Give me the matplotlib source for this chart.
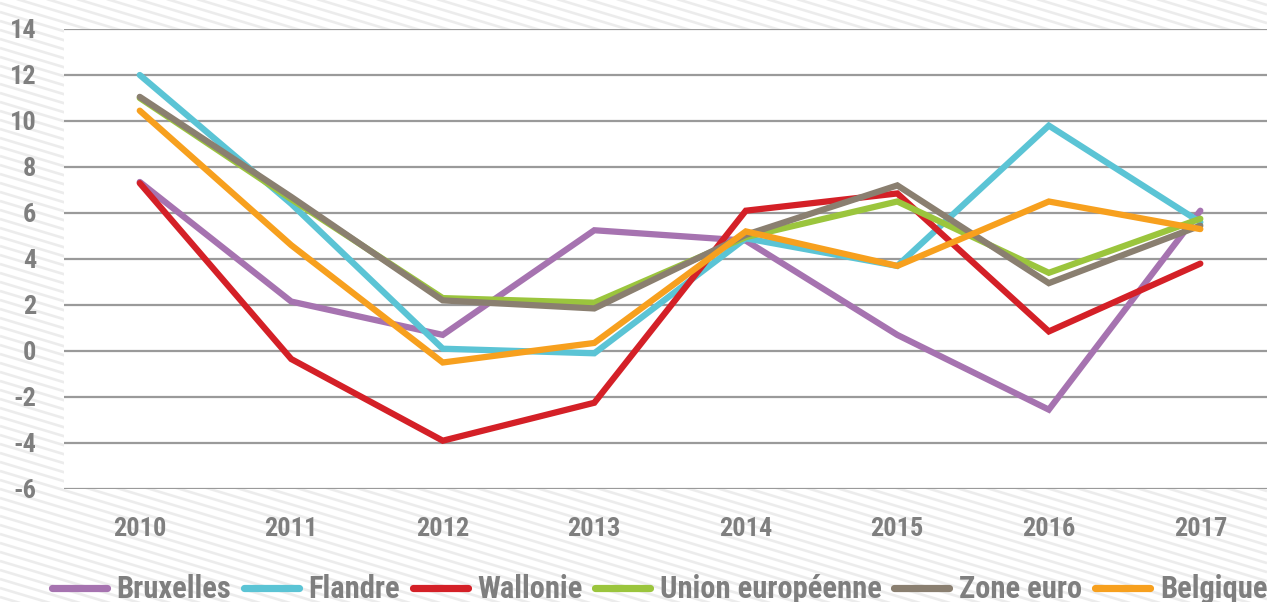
import matplotlib
matplotlib.use('Agg')
import matplotlib.pyplot as plt
from matplotlib import font_manager
import numpy as np

years = ['2010', '2011', '2012', '2013', '2014', '2015', '2016', '2017']

bruxelles = [7.35, 2.15, 0.7, 5.25, 4.8, 0.7, -2.55, 6.1]
flandre = [12.0, 6.4, 0.1, -0.1, 4.9, 3.7, 9.8, 5.6]
wallonie = [7.3, -0.35, -3.9, -2.25, 6.1, 6.85, 0.85, 3.8]
union_europeenne = [11.0, 6.6, 2.3, 2.1, 4.95, 6.5, 3.4, 5.75]
zone_euro = [11.05, 6.7, 2.2, 1.85, 5.05, 7.2, 2.95, 5.45]
belgique = [10.45, 4.6, -0.5, 0.35, 5.2, 3.7, 6.5, 5.3]

series = [
    ('Bruxelles', bruxelles, '#a673b0'),
    ('Flandre', flandre, '#5bc4d5'),
    ('Wallonie', wallonie, '#d42027'),
    ('Union européenne', union_europeenne, '#9bc53d'),
    ('Zone euro', zone_euro, '#8a7f70'),
    ('Belgique', belgique, '#f7a01e'),
]

# the original uses a condensed bold face
names = set(f.name for f in font_manager.fontManager.ttflist)
narrow = 'DejaVu Sans'
for cand in ['Roboto Condensed', 'Liberation Sans Narrow', 'Open Sans Condensed']:
    if cand in names:
        narrow = cand
        break

plt.rcParams['font.family'] = [narrow, 'DejaVu Sans']
plt.rcParams['font.weight'] = 'bold'
plt.rcParams['axes.unicode_minus'] = False

grey = '#7f7f7f'

fig = plt.figure(figsize=(12.67, 6.02), dpi=100)

# striped background
bg = fig.add_axes([0, 0, 1, 1], zorder=-1)
bg.set_xlim(0, 1267)
bg.set_ylim(602, 0)
bg.axis('off')
for y0 in np.arange(-420, 610, 9):
    bg.plot([0, 1267], [y0, y0 + 0.3 * 1267], color='#ececec', lw=1.9, solid_capstyle='butt')

ax = fig.add_axes([64 / 1267, 1 - 489 / 602, 1 - 64 / 1267, 460 / 602])
ax.set_facecolor('white')
x = np.arange(len(years))
for name, vals, col in series:
    ax.plot(x, vals, color=col, lw=4.5, label=name, solid_joinstyle='miter', solid_capstyle='round')

ax.set_xlim(-0.5, 7.44)
ax.set_ylim(-6, 14)
ax.set_yticks(np.arange(-6, 15, 2))
ax.set_xticks(x)
ax.set_xticklabels(years)
ax.yaxis.grid(True, color='#9a9a9a', lw=1.6)
ax.set_axisbelow(True)
for s in ax.spines.values():
    s.set_visible(False)
ax.tick_params(length=0, labelsize=19, labelcolor=grey, pad=20)
ax.tick_params(axis='x', pad=20)
for lab in ax.get_xticklabels() + ax.get_yticklabels():
    lab.set_fontweight('bold')

leg = fig.legend(loc='center', bbox_to_anchor=(0.5205, 0.021), ncol=6, frameon=False,
                 fontsize=22, handlelength=1.8, handletextpad=0.33, columnspacing=0.4,
                 borderpad=0.2)
for t in leg.get_texts():
    t.set_color(grey)
    t.set_fontweight('bold')
for h in leg.get_lines():
    h.set_linewidth(5.2)

fig.savefig('out.png', dpi=100)
